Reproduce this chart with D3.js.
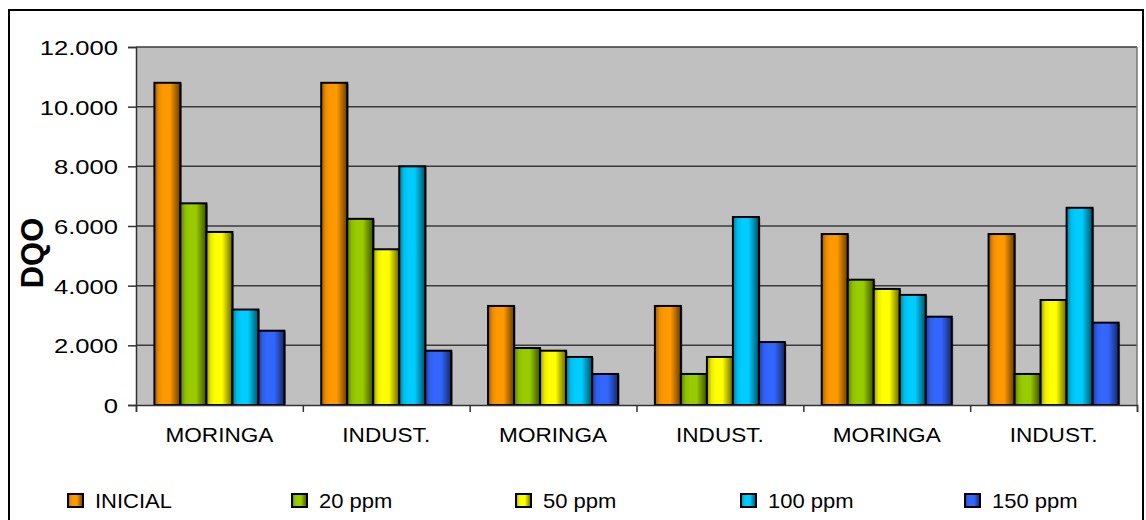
<!DOCTYPE html>
<html><head><meta charset="utf-8">
<script src="https://cdn.jsdelivr.net/npm/d3@7"></script>
<style>html,body{margin:0;padding:0;background:#fff;}svg{display:block;}</style>
</head><body>
<svg id="chart" width="1146" height="520"></svg>
<script>
const categories = ["MORINGA","INDUST.","MORINGA","INDUST.","MORINGA","INDUST."];
const seriesNames = ["INICIAL","20 ppm","50 ppm","100 ppm","150 ppm"];
const seriesColors = ["#ff9900","#99cc00","#ffff00","#00ccff","#3366ff"];
const inicial = [10800,10800,3320,3320,5730,5730];
const ppm20   = [6760,6240,1910,1040,4200,1040];
const ppm50   = [5800,5220,1820,1610,3890,3520];
const ppm100  = [3200,8000,1610,6300,3690,6610];
const ppm150  = [2490,1820,1040,2110,2960,2760];
const seriesValues = [inicial, ppm20, ppm50, ppm100, ppm150];
const yTicks = [0,2000,4000,6000,8000,10000,12000];
const yTickLabels = ["0","2.000","4.000","6.000","8.000","10.000","12.000"];
const yTitle = "DQO";

const svg = d3.select("#chart");
const plot = {l:136, r:1137, t:47, b:405};
const FONT = "'Liberation Sans', Arial, sans-serif";

// outer frame
svg.append("rect").attr("x",9).attr("y",10).attr("width",1134).attr("height",530)
  .attr("fill","#fff").attr("stroke","#000").attr("stroke-width",2);

const x0 = d3.scaleBand().domain(d3.range(categories.length)).range([plot.l, plot.r]).paddingInner(0).paddingOuter(0);
const x1 = d3.scaleBand().domain(d3.range(seriesNames.length)).range([0, x0.bandwidth()]).paddingInner(0).paddingOuter(0.707);
const y = d3.scaleLinear().domain([0,12000]).range([plot.b, plot.t]);

// gradients
const defs = svg.append("defs");
seriesColors.forEach((c,i)=>{
  const g = defs.append("linearGradient").attr("id","g"+i).attr("x1","0").attr("x2","1").attr("y1","0").attr("y2","0");
  const base = d3.rgb(c);
  g.append("stop").attr("offset","0%").attr("stop-color", base.darker(1.4));
  g.append("stop").attr("offset","18%").attr("stop-color", base.darker(0.2));
  g.append("stop").attr("offset","35%").attr("stop-color", base);
  g.append("stop").attr("offset","60%").attr("stop-color", base);
  g.append("stop").attr("offset","100%").attr("stop-color", base.darker(2.6));
});

// plot background
svg.append("rect").attr("x",plot.l).attr("y",plot.t).attr("width",plot.r-plot.l).attr("height",plot.b-plot.t)
  .attr("fill","#c0c0c0");

// gridlines
svg.append("g").selectAll("line").data(yTicks.filter(d=>d>0)).join("line")
  .attr("x1",plot.l).attr("x2",plot.r).attr("y1",d=>y(d)).attr("y2",d=>y(d))
  .attr("stroke","#3a3a3a").attr("stroke-width",1.5);
// right border of plot
svg.append("line").attr("x1",plot.r).attr("x2",plot.r).attr("y1",plot.t).attr("y2",plot.b)
  .attr("stroke","#777").attr("stroke-width",1.5);

// bars
const groups = svg.append("g").selectAll("g").data(categories).join("g")
  .attr("transform",(d,i)=>`translate(${x0(i)},0)`);
groups.each(function(cat, ci){
  const sel = d3.select(this);
  seriesValues.forEach((vals, si)=>{
    const v = vals[ci];
    const bx = x1(si), bw = x1.bandwidth();
    sel.append("rect").attr("x",bx+1.5).attr("y",y(v)+1).attr("width",bw).attr("height",plot.b-y(v)-1)
      .attr("fill","rgba(0,0,0,0.35)");
    sel.append("rect").attr("x",bx).attr("y",y(v)).attr("width",bw).attr("height",plot.b-y(v))
      .attr("fill",`url(#g${si})`).attr("stroke","#000").attr("stroke-width",2);
  });
});

// y axis
const yAxis = d3.axisLeft(y).tickValues(yTicks).tickFormat((d,i)=>yTickLabels[i]).tickSize(8).tickPadding(10);
const ya = svg.append("g").attr("transform",`translate(${plot.l},0)`).call(yAxis);
ya.select(".domain").attr("stroke","#333").attr("stroke-width",1.5);
ya.selectAll(".tick line").attr("stroke","#333").attr("stroke-width",1.5);
ya.selectAll(".tick text").attr("font-family",FONT).attr("font-size",21).attr("fill","#000")
  .attr("dy","0.36em")
  .each(function(){ const t=d3.select(this); const xx=+t.attr("x"); t.attr("x",null).attr("transform",`translate(${xx},0) scale(1.22,1)`); });

// x axis
const xAxisScale = d3.scaleLinear().domain([0,categories.length]).range([plot.l, plot.r]);
const xa = svg.append("g").attr("transform",`translate(0,${plot.b})`)
  .call(d3.axisBottom(xAxisScale).tickValues(d3.range(categories.length+1)).tickSize(7).tickFormat(""));
xa.select(".domain").attr("stroke","#333").attr("stroke-width",1.5);
xa.selectAll(".tick line").attr("stroke","#333").attr("stroke-width",1.5);

svg.append("g").selectAll("text").data(categories).join("text")
  .attr("transform",(d,i)=>`translate(${x0(i)+x0.bandwidth()/2},442) scale(1.13,1)`)
  .attr("text-anchor","middle").attr("font-family",FONT).attr("font-size",20)
  .text(d=>d);

// y title
svg.append("text").attr("transform","translate(43,253) rotate(-90)")
  .attr("text-anchor","middle").attr("font-family",FONT).attr("font-weight","bold").attr("font-size",31)
  .text(yTitle);

// legend
const legendX = [68, 292, 516, 741, 965];
const lg = svg.append("g").selectAll("g").data(seriesNames).join("g")
  .attr("transform",(d,i)=>`translate(${legendX[i]},501)`);
lg.append("rect").attr("x",0).attr("y",-7).attr("width",15).attr("height",13)
  .attr("fill",(d,i)=>`url(#g${i})`).attr("stroke","#000").attr("stroke-width",2);
lg.append("text").attr("transform","translate(27,7) scale(1.1,1)").attr("font-family",FONT).attr("font-size",20)
  .text(d=>d);
</script>
</body></html>
